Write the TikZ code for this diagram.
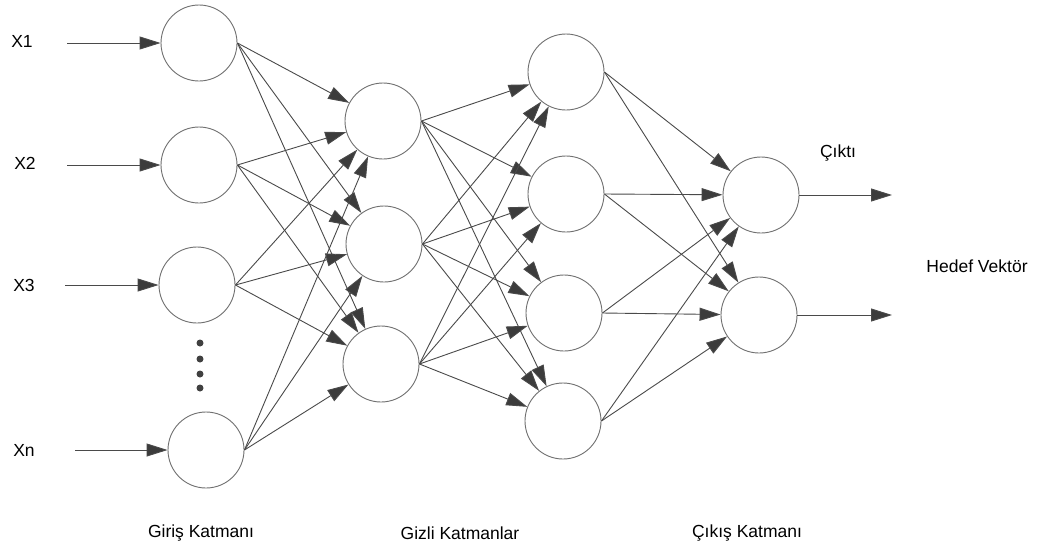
\documentclass[tikz,border=0pt]{standalone}
\usepackage{fontspec}
\setmainfont{Liberation Sans}
\usetikzlibrary{arrows.meta}
\definecolor{edgegray}{HTML}{4A4A4A}
\definecolor{headgray}{HTML}{3C3C3C}
\definecolor{ringgray}{HTML}{707070}
\tikzset{
  neuron/.style={circle, draw=ringgray, line width=0.9pt, minimum size=76pt, inner sep=0pt, fill=white},
  conn/.style={draw=edgegray, line width=0.9pt, -{Triangle[length=21pt,width=13pt,fill=headgray]}},
  lbl/.style={font=\fontsize{17.5}{19}\selectfont, text=black, inner sep=0pt},
  dotnode/.style={circle, fill=black!75, minimum size=7pt, inner sep=0pt}
}
\begin{document}
\begin{tikzpicture}[x=1pt,y=-1pt]
\useasboundingbox (0,0) rectangle (1052,550);
\fill[white] (0,0) rectangle (1052,550);
% input layer
\node[neuron] (i1) at (199,43) {};
\node[neuron] (i2) at (199,165) {};
\node[neuron] (i3) at (197,285) {};
\node[neuron] (i4) at (206,450) {};
% hidden layer 1
\node[neuron] (h1) at (383,121) {};
\node[neuron] (h2) at (384,244) {};
\node[neuron] (h3) at (381,364) {};
% hidden layer 2
\node[neuron] (g1) at (566,72) {};
\node[neuron] (g2) at (566,194) {};
\node[neuron] (g3) at (564,313) {};
\node[neuron] (g4) at (563,421) {};
% output layer
\node[neuron] (o1) at (761,195) {};
\node[neuron] (o2) at (759,315) {};
% dots
\node[dotnode] (d1) at (200,343) {};
\node[dotnode] (d2) at (200,359) {};
\node[dotnode] (d3) at (200,374) {};
\node[dotnode] (d4) at (200,388) {};
% input labels and arrows
\node[lbl] (x1) at (22,41) {X1};
\node[lbl] (x2) at (25,163) {X2};
\node[lbl] (x3) at (24,285) {X3};
\node[lbl] (xn) at (24,450) {Xn};
\coordinate (s1) at (67,43);
\coordinate (s2) at (67,165);
\coordinate (s3) at (65,285);
\coordinate (s4) at (75,450);
\draw[conn] (s1) -- (i1);
\draw[conn] (s2) -- (i2);
\draw[conn] (s3) -- (i3);
\draw[conn] (s4) -- (i4);
% input -> hidden 1
\foreach \a in {i1,i2,i3,i4}{
  \foreach \b in {h1,h2,h3}{
    \draw[conn] (\a.east) -- (\b);
  }
}
% hidden 1 -> hidden 2
\foreach \a in {h1,h2,h3}{
  \foreach \b in {g1,g2,g3,g4}{
    \draw[conn] (\a.east) -- (\b);
  }
}
% hidden 2 -> output
\foreach \a in {g1,g2,g3,g4}{
  \foreach \b in {o1,o2}{
    \draw[conn] (\a.east) -- (\b);
  }
}
% output arrows
\coordinate (e1) at (892,195);
\coordinate (e2) at (892,315);
\draw[conn] (o1) -- (e1);
\draw[conn] (o2) -- (e2);
\node[lbl] (cikti) at (838,153) {Çıktı};
\node[lbl] (hedef) at (977,266) {Hedef Vektör};
% bottom labels
\node[lbl] (l1) at (201,533) {Giriş Katmanı};
\node[lbl] (l2) at (460,533) {Gizli Katmanlar};
\node[lbl] (l3) at (747,533) {Çıkış Katmanı};
\end{tikzpicture}
\end{document}
